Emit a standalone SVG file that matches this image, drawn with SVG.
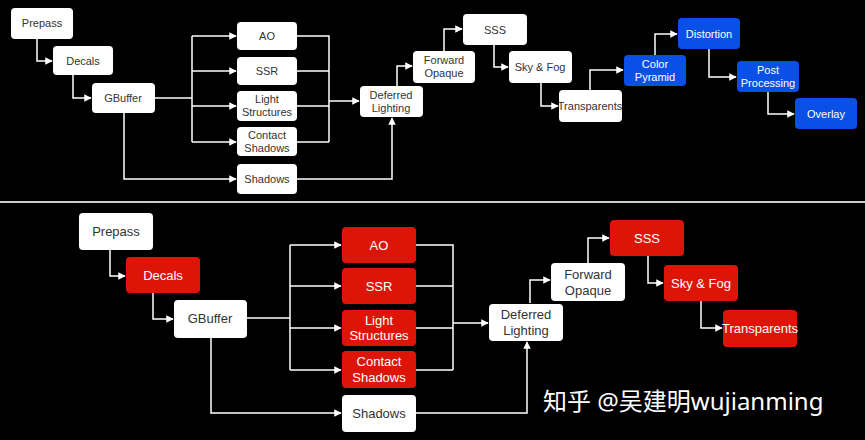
<svg xmlns="http://www.w3.org/2000/svg" width="865" height="440" viewBox="0 0 865 440">
<defs>
<style>
.n rect{fill:#fff;rx:4px}
.r rect{fill:#dd1408}
.b rect{fill:#0a4fe6}
text{font-family:"Liberation Sans",Arial,sans-serif;text-anchor:middle;fill:#333;font-size:11px}
.big text{font-size:13px}
.r text,.b text{fill:#fff}
.c path{fill:none;stroke:#fff;stroke-width:1.5}
</style>
<marker id="a" viewBox="0 0 10 10" refX="9" refY="5" markerWidth="5" markerHeight="5" orient="auto"><path d="M0,0L10,5L0,10z" fill="#fff"/></marker>
</defs>
<rect width="865" height="440" fill="#000"/>
<rect x="0" y="201" width="865" height="2" fill="#ccc"/>
<g class="c">
<path d="M37,39V61H52" marker-end="url(#a)"/>
<path d="M73,75V98H91" marker-end="url(#a)"/>
<path d="M155,98H192"/>
<path d="M192,36V142"/>
<path d="M192,36H236" marker-end="url(#a)"/>
<path d="M192,71H236" marker-end="url(#a)"/>
<path d="M192,106H236" marker-end="url(#a)"/>
<path d="M192,142H236" marker-end="url(#a)"/>
<path d="M297,36H329V142M297,71H329M297,106H329M297,142H329"/>
<path d="M329,101H359" marker-end="url(#a)"/>
<path d="M124,113V179H236" marker-end="url(#a)"/>
<path d="M297,179H392V118" marker-end="url(#a)"/>
<path d="M397,86V66H412" marker-end="url(#a)"/>
<path d="M444,51V29H462" marker-end="url(#a)"/>
<path d="M494,45V67H508" marker-end="url(#a)"/>
<path d="M541,83V106H558" marker-end="url(#a)"/>
<path d="M590,90V70H623" marker-end="url(#a)"/>
<path d="M655,55V34H677" marker-end="url(#a)"/>
<path d="M709,49V77H736" marker-end="url(#a)"/>
<path d="M768,92V114H794" marker-end="url(#a)"/>
<path d="M110,250V276H125" marker-end="url(#a)"/>
<path d="M153,293V319H173" marker-end="url(#a)"/>
<path d="M247,318H290"/>
<path d="M290,245V370"/>
<path d="M290,245H341" marker-end="url(#a)"/>
<path d="M290,286H341" marker-end="url(#a)"/>
<path d="M290,328H341" marker-end="url(#a)"/>
<path d="M290,370H341" marker-end="url(#a)"/>
<path d="M416,245H453V370M416,286H453M416,328H453M416,370H453"/>
<path d="M453,323H488" marker-end="url(#a)"/>
<path d="M211,338V413H341" marker-end="url(#a)"/>
<path d="M416,413H527V342" marker-end="url(#a)"/>
<path d="M530,303V280H550" marker-end="url(#a)"/>
<path d="M588,263V238H609" marker-end="url(#a)"/>
<path d="M648,256V283H663" marker-end="url(#a)"/>
<path d="M701,301V328H722" marker-end="url(#a)"/>
</g>
<g id="t-prepass" class="n"><rect x="11" y="8" width="62" height="31" rx="4"/><text x="42" y="27">Prepass</text></g>
<g id="t-decals" class="n"><rect x="53" y="46" width="60" height="29" rx="4"/><text x="83" y="65">Decals</text></g>
<g id="t-gbuffer" class="n"><rect x="92" y="83" width="63" height="30" rx="4"/><text x="123" y="102">GBuffer</text></g>
<g id="t-ao" class="n"><rect x="237" y="22" width="60" height="28" rx="4"/><text x="267" y="40">AO</text></g>
<g id="t-ssr" class="n"><rect x="237" y="57" width="60" height="28" rx="4"/><text x="267" y="75">SSR</text></g>
<g id="t-light" class="n"><rect x="237" y="91" width="60" height="30" rx="4"/><text x="267" y="103">Light</text><text x="267" y="116">Structures</text></g>
<g id="t-contact" class="n"><rect x="237" y="127" width="60" height="29" rx="4"/><text x="267" y="139">Contact</text><text x="267" y="152">Shadows</text></g>
<g id="t-shadows" class="n"><rect x="237" y="164" width="60" height="30" rx="4"/><text x="267" y="183">Shadows</text></g>
<g id="t-deferred" class="n"><rect x="360" y="86" width="63" height="31" rx="4"/><text x="391" y="99">Deferred</text><text x="391" y="112">Lighting</text></g>
<g id="t-forward" class="n"><rect x="413" y="51" width="62" height="32" rx="4"/><text x="444" y="64">Forward</text><text x="444" y="77">Opaque</text></g>
<g id="t-sss" class="n"><rect x="463" y="14" width="64" height="31" rx="4"/><text x="495" y="34">SSS</text></g>
<g id="t-sky" class="n"><rect x="509" y="51" width="63" height="32" rx="4"/><text x="540" y="71">Sky &amp; Fog</text></g>
<g id="t-transp" class="n"><rect x="559" y="90" width="63" height="32" rx="4"/><text x="590" y="110">Transparents</text></g>
<g id="t-color" class="b"><rect x="624" y="55" width="62" height="31" rx="4"/><text x="655" y="68">Color</text><text x="655" y="81">Pyramid</text></g>
<g id="t-distortion" class="b"><rect x="678" y="18" width="62" height="31" rx="4"/><text x="709" y="38">Distortion</text></g>
<g id="t-post" class="b"><rect x="737" y="61" width="62" height="31" rx="4"/><text x="768" y="74">Post</text><text x="768" y="87">Processing</text></g>
<g id="t-overlay" class="b"><rect x="795" y="98" width="62" height="31" rx="4"/><text x="826" y="118">Overlay</text></g>
<g class="big">
<g id="b-prepass" class="n"><rect x="79" y="213" width="74" height="37" rx="4"/><text x="116" y="236">Prepass</text></g>
<g id="b-decals" class="r"><rect x="126" y="257" width="74" height="36" rx="4"/><text x="163" y="280">Decals</text></g>
<g id="b-gbuffer" class="n"><rect x="174" y="300" width="73" height="38" rx="4"/><text x="210" y="323">GBuffer</text></g>
<g id="b-ao" class="r"><rect x="342" y="227" width="74" height="36" rx="4"/><text x="379" y="250">AO</text></g>
<g id="b-ssr" class="r"><rect x="342" y="268" width="74" height="36" rx="4"/><text x="379" y="291">SSR</text></g>
<g id="b-light" class="r"><rect x="342" y="310" width="74" height="36" rx="4"/><text x="379" y="325">Light</text><text x="379" y="340">Structures</text></g>
<g id="b-contact" class="r"><rect x="342" y="351" width="74" height="37" rx="4"/><text x="379" y="366">Contact</text><text x="379" y="382">Shadows</text></g>
<g id="b-shadows" class="n"><rect x="342" y="395" width="74" height="37" rx="4"/><text x="379" y="418">Shadows</text></g>
<g id="b-deferred" class="n"><rect x="489" y="304" width="74" height="37" rx="4"/><text x="526" y="319">Deferred</text><text x="526" y="335">Lighting</text></g>
<g id="b-forward" class="n"><rect x="551" y="263" width="74" height="38" rx="4"/><text x="588" y="279">Forward</text><text x="588" y="295">Opaque</text></g>
<g id="b-sss" class="r"><rect x="610" y="220" width="74" height="36" rx="4"/><text x="647" y="243">SSS</text></g>
<g id="b-sky" class="r"><rect x="664" y="265" width="74" height="36" rx="4"/><text x="701" y="288">Sky &amp; Fog</text></g>
<g id="b-transp" class="r"><rect x="723" y="310" width="74" height="37" rx="4"/><text x="760" y="333">Transparents</text></g>
</g>
<text x="543" y="410" style="text-anchor:start;fill:#fff;font-size:24px;font-family:'Noto Sans','Noto Sans CJK SC',sans-serif">知乎 @吴建明wujianming</text>
</svg>
